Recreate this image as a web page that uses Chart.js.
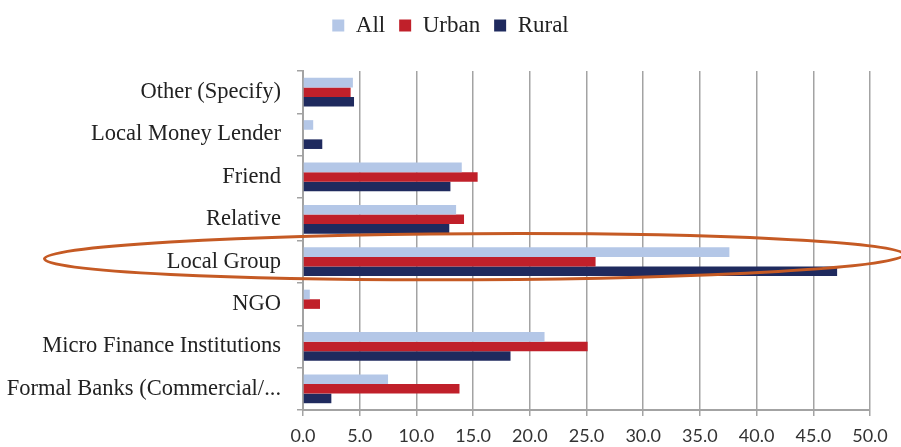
<!DOCTYPE html>
<html>
<head>
<meta charset="utf-8">
<script src="https://cdn.jsdelivr.net/npm/chart.js@4/dist/chart.umd.min.js"></script>
<style>
  html, body { margin: 0; padding: 0; background: #fff; }
  #wrap { width: 901px; height: 447px; position: relative; }
</style>
</head>
<body>
<div id="wrap"><canvas id="myChart"></canvas></div>
<script>
// categories, top to bottom
const categories = [
  'Other (Specify)',
  'Local Money Lender',
  'Friend',
  'Relative',
  'Local Group',
  'NGO',
  'Micro Finance Institutions',
  'Formal Banks (Commercial/...'
];

// percent of households per source
const allValues   = [4.4, 0.9, 14.0, 13.5, 37.6, 0.6, 21.3, 7.5];
const urbanValues = [4.2, 0.0, 15.4, 14.2, 25.8, 1.5, 25.1, 13.8];
const ruralValues = [4.5, 1.7, 13.0, 12.9, 47.1, 0.0, 18.3, 2.5];

const xTicks = [0, 5, 10, 15, 20, 25, 30, 35, 40, 45, 50];

const highlightCategory = 'Local Group';

const serif = '"Liberation Serif", "DejaVu Serif", serif';
const gridGray = '#a3a3a3';

// orange ellipse drawn around the highlighted category
const ellipsePlugin = {
  id: 'ellipse',
  afterDatasetsDraw(chart) {
    const {ctx, scales} = chart;
    const idx = categories.indexOf(highlightCategory);
    const cy = scales.y.getPixelForValue(idx) - 5;
    const left = scales.x.getPixelForValue(-22.8);
    const right = scales.x.getPixelForValue(53);
    const cx = (left + right) / 2;
    const rx = (right - left) / 2;
    ctx.save();
    ctx.beginPath();
    ctx.ellipse(cx, cy, rx, 23, -0.005, 0, Math.PI * 2);
    ctx.lineWidth = 3;
    ctx.strokeStyle = '#c55a24';
    ctx.stroke();
    ctx.restore();
  }
};

// fixed legend height so the plot starts where the reference does,
// and centre the legend on the whole canvas instead of the padded area
const legendHeight = {
  id: 'legendHeight',
  beforeInit(chart) {
    const origFit = chart.legend.fit;
    chart.legend.fit = function fit() {
      origFit.bind(chart.legend)();
      this.height = 71;
    };
  },
  afterLayout(chart) {
    chart.legend.right = chart.width;
  }
};

const data = {
  labels: categories,
  datasets: [
    { label: 'All', data: allValues, backgroundColor: '#b4c7e7' },
    { label: 'Urban', data: urbanValues, backgroundColor: '#c0202a' },
    { label: 'Rural', data: ruralValues, backgroundColor: '#1f2a5e' }
  ].map((d) => ({
    ...d,
    borderWidth: 0,
    categoryPercentage: 0.68,
    barPercentage: 1.0
  }))
};

const config = {
  type: 'bar',
  data: data,
  options: {
    indexAxis: 'y',
    responsive: true,
    maintainAspectRatio: false,
    animation: false,
    layout: { padding: { left: 0, right: 31, top: 0, bottom: 0 } },
    plugins: {
      tooltip: { enabled: false },
      legend: {
        position: 'top',
        labels: {
          boxWidth: 12,
          boxHeight: 12,
          padding: 14,
          color: '#222',
          font: { family: serif, size: 23 }
        }
      }
    },
    scales: {
      x: {
        min: 0,
        max: 50,
        afterBuildTicks(scale) {
          scale.ticks = xTicks.map((v) => ({ value: v }));
        },
        afterFit(scale) { scale.height = 37; },
        border: { display: true, color: gridGray, width: 2 },
        grid: { color: gridGray, lineWidth: 1.5, tickLength: 6, drawTicks: true },
        ticks: {
          color: '#333',
          padding: 9,
          font: { family: 'Lato, "Open Sans", sans-serif', size: 18 },
          callback: (v) => Number(v).toFixed(1)
        }
      },
      y: {
        afterFit(scale) { scale.width = 303; },
        border: { display: true, color: gridGray, width: 2 },
        grid: { drawOnChartArea: false, color: gridGray, lineWidth: 1.5, tickLength: 6, offset: true },
        ticks: {
          color: '#222',
          padding: 16,
          autoSkip: false,
          font: { family: serif, size: 22.5 }
        }
      }
    }
  },
  plugins: [legendHeight, ellipsePlugin]
};

document.addEventListener('DOMContentLoaded', () => {
  const target = document.querySelector('#myChart');
  new Chart(target, config);
});
</script>
</body>
</html>
